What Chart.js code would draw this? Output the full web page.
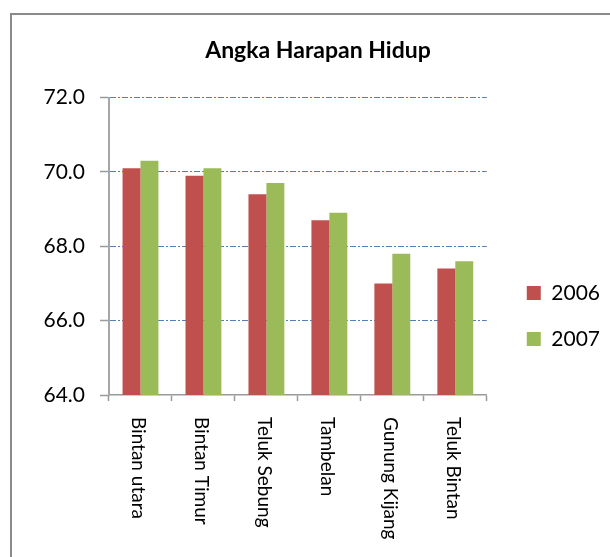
<!DOCTYPE html>
<html>
<head>
<meta charset="utf-8">
<script src="https://cdn.jsdelivr.net/npm/chart.js@4.4.1/dist/chart.umd.min.js"></script>
<style>
    html, body { margin: 0; padding: 0; background: #fff; }
    #wrap { position: relative; width: 610px; height: 557px; overflow: hidden; }
    #frame { position: absolute; left: 10px; top: 13px; width: 700px; height: 700px; border: 2px solid #8a8a8a; }
    #lifeChart { position: absolute; left: 0; top: 0; }
</style>
</head>
<body>
<div id="wrap">
    <div id="frame"></div>
    <canvas id="lifeChart" width="610" height="557"></canvas>
</div>
<script>
const categories = ['Bintan utara', 'Bintan Timur', 'Teluk Sebung', 'Tambelan', 'Gunung Kijang', 'Teluk Bintan'];
const values2006 = [70.1, 69.9, 69.4, 68.7, 67.0, 67.4];
const values2007 = [70.3, 70.1, 69.7, 68.9, 67.8, 67.6];
const yTicks = [64, 66, 68, 70, 72];

Chart.defaults.font.family = 'Lato, "Open Sans", sans-serif';
Chart.defaults.color = '#000';

// category labels read top-to-bottom (rotated clockwise), which Chart.js ticks can't do
const rotatedLabels = {
    id: 'rotatedLabels',
    afterDraw(chart) {
        const xs = chart.scales.x;
        const ctx = chart.ctx;
        ctx.save();
        ctx.font = '19px Lato';
        ctx.fillStyle = '#000';
        ctx.textAlign = 'left';
        ctx.textBaseline = 'middle';
        categories.forEach((label, i) => {
            ctx.save();
            ctx.translate(xs.getPixelForTick(i) - 2, xs.top + 22);
            ctx.rotate(Math.PI / 2);
            ctx.fillText(label, 0, 0);
            ctx.restore();
        });
        ctx.restore();
    }
};

const ctx = document.getElementById('lifeChart').getContext('2d');

new Chart(ctx, {
    type: 'bar',
    data: {
        labels: categories,
        datasets: [{
            label: '2006',
            data: values2006,
            backgroundColor: '#c0504d',
            barPercentage: 1.0,
            categoryPercentage: 0.57
        }, {
            label: '2007',
            data: values2007,
            backgroundColor: '#9bbb59',
            barPercentage: 1.0,
            categoryPercentage: 0.57
        }]
    },
    options: {
        responsive: false,
        animation: false,
        devicePixelRatio: 1,
        layout: {
            padding: { left: 26, right: 0, top: 0, bottom: 22 }
        },
        scales: {
            x: {
                grid: {
                    display: true,
                    drawOnChartArea: false,
                    drawTicks: true,
                    tickLength: 6,
                    tickColor: '#9a9a9a',
                    tickWidth: 1.5,
                    offset: true
                },
                border: { color: '#9a9a9a', width: 1.5 },
                ticks: { display: false },
                afterFit: (scale) => { scale.height = 140; }
            },
            y: {
                min: yTicks[0],
                max: yTicks[yTicks.length - 1],
                afterBuildTicks: (scale) => { scale.ticks = yTicks.map(v => ({ value: v })); },
                grid: {
                    color: (c) => (c.tick && c.tick.value === yTicks[0]) ? 'rgba(0,0,0,0)' : '#4f81bd',
                    lineWidth: 1,
                    tickLength: 9,
                    tickColor: '#9a9a9a',
                    tickWidth: 1.5
                },
                border: { color: '#a6a6a6', width: 2, dash: [6, 2, 2, 2] },
                ticks: {
                    padding: 15,
                    font: { size: 21 },
                    callback: (v) => Number(v).toFixed(1)
                },
                afterFit: (scale) => { scale.width = 83; }
            },
            gap: {
                type: 'linear',
                position: 'right',
                display: true,
                grid: { display: false },
                border: { display: false },
                ticks: { display: false },
                afterFit: (scale) => { scale.width = 15; }
            }
        },
        plugins: {
            title: {
                display: true,
                text: 'Angka Harapan Hidup',
                font: { size: 23, weight: 'bold' },
                color: '#000',
                padding: { top: 37, bottom: 33 }
            },
            legend: {
                position: 'right',
                align: 'center',
                maxWidth: 200,
                title: {
                    display: true,
                    text: ' ',
                    font: { size: 1 },
                    padding: { top: 96, bottom: 0 }
                },
                labels: {
                    boxWidth: 14,
                    boxHeight: 14,
                    padding: 25,
                    font: { size: 21 },
                    color: '#000'
                }
            },
            tooltip: { enabled: false }
        }
    },
    plugins: [rotatedLabels]
});
</script>
</body>
</html>
